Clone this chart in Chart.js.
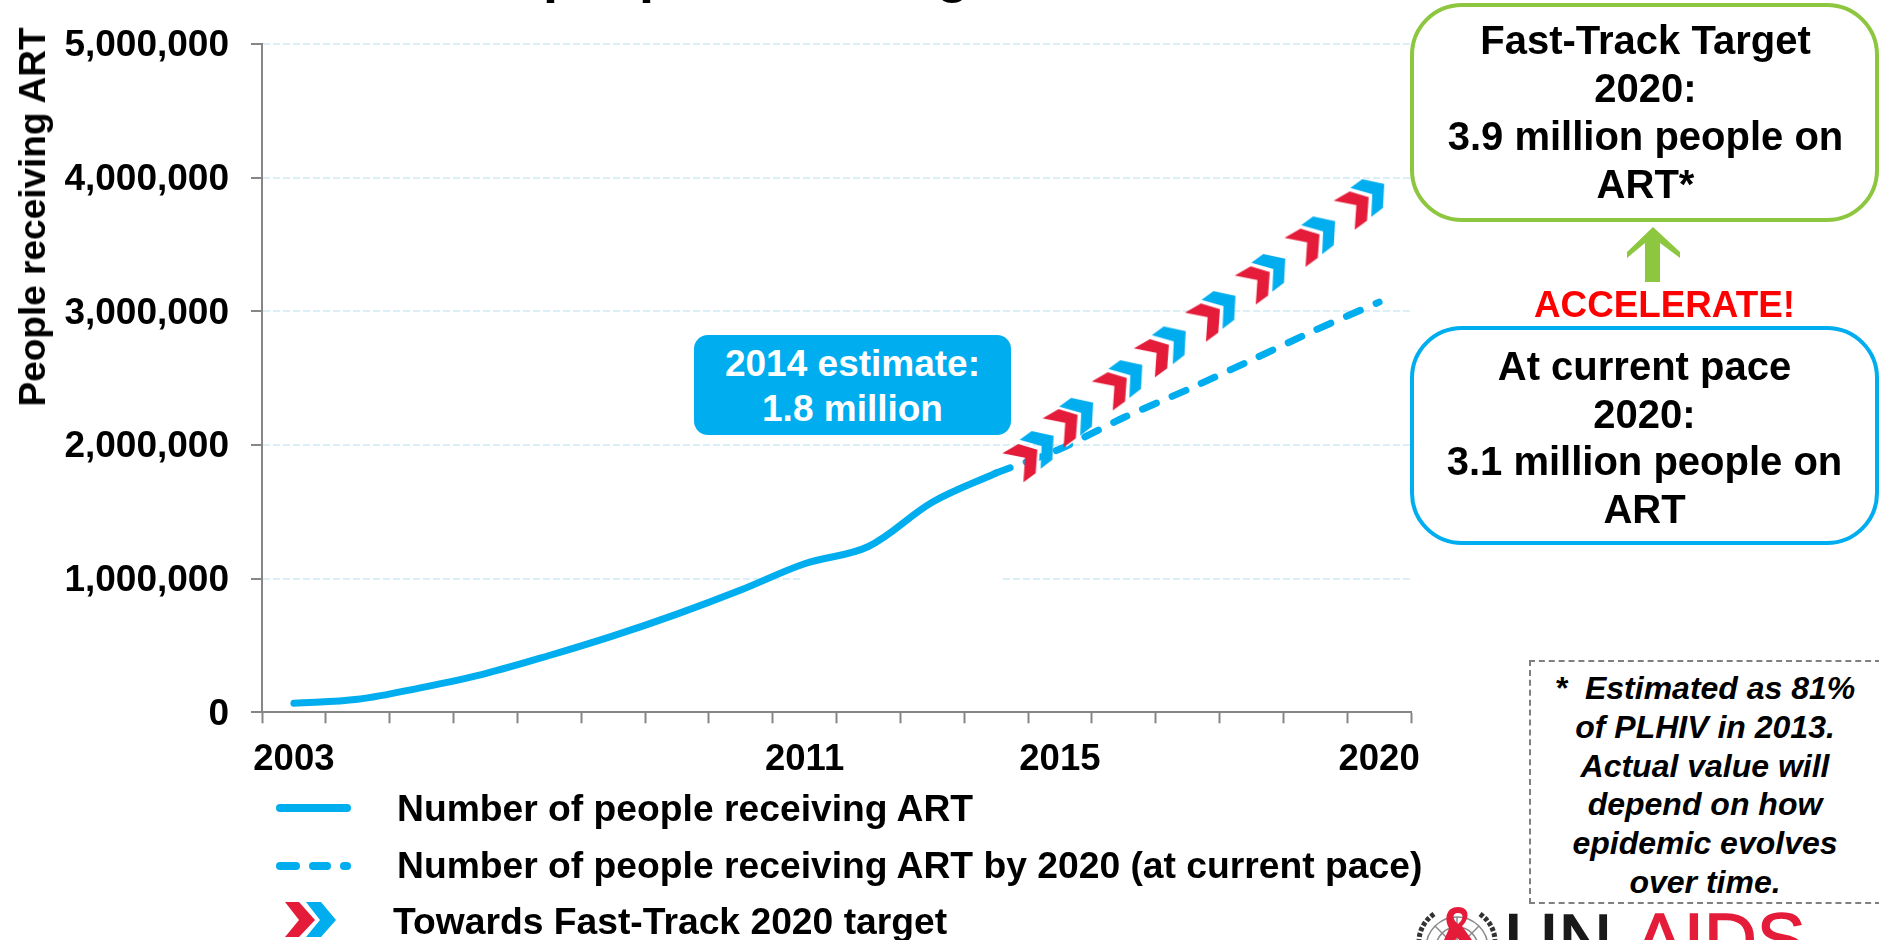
<!DOCTYPE html>
<html>
<head>
<meta charset="utf-8">
<title>People receiving ART</title>
<script src="https://cdn.jsdelivr.net/npm/chart.js@4"></script>
<style>
  html, body { margin: 0; padding: 0; background: #fff; overflow: hidden; }
  #page { position: relative; width: 1879px; height: 940px; overflow: hidden;
          font-family: "Liberation Sans", Arial, sans-serif; font-weight: bold; color: #000; }
  #grafica { position: absolute; left: 0; top: 0; }
  .txt { position: absolute; white-space: nowrap; }
  .caja { position: absolute; box-sizing: border-box; background: #fff; border-radius: 52px;
          text-align: center; font-size: 40px; }
  #titulo { left: 258px; top: -58px; font-size: 54px; line-height: 62px; }
  #ejeY { left: 33px; top: 217px; font-size: 37px; line-height: 40px;
          transform: translate(-50%, -50%) rotate(-90deg); }
  #tapa { position: absolute; left: 803px; top: 574px; width: 197px; height: 9px; background: #fff; }
  #estimado { position: absolute; left: 694px; top: 335px; width: 317px; height: 100px; background: #00aeef;
              border-radius: 14px; color: #fff; font-size: 37px; line-height: 45px; text-align: center;
              padding-top: 6px; box-sizing: border-box; }
  #meta { left: 1410px; top: 3px; width: 469px; height: 219px; border: 4px solid #8dc63f; line-height: 48px; padding: 9px 0 0 2px; }
  #ritmo { left: 1410px; top: 326px; width: 469px; height: 219px; border: 4px solid #00aeef; line-height: 47.5px; padding-top: 13px; }
  #acelera { left: 1534px; top: 285px; font-size: 36.8px; line-height: 40px; color: #f00; }
  #nota { position: absolute; left: 1529px; top: 660px; width: 352px; height: 244px; box-sizing: border-box;
          border: 2px dashed #808080; background: #fff; text-align: center; font-style: italic;
          font-size: 32px; line-height: 38.8px; padding-top: 7px; }
  .leyenda { font-size: 37.25px; line-height: 42px; }
  .logo { font-weight: normal; -webkit-text-stroke: 1.5px currentColor; line-height: 80px; }
  svg { position: absolute; overflow: visible; }
</style>
</head>
<body>
<div id="page">
  <canvas id="grafica" width="1879" height="940"></canvas>
  <div id="tapa"></div>

  <div class="txt" id="titulo">Number of people receiving ART</div>
  <div class="txt" id="ejeY">People receiving ART</div>

  <div id="estimado">2014 estimate:<br>1.8 million</div>

  <div class="caja" id="meta">Fast-Track Target<br>2020:<br>3.9 million people on<br>ART*</div>
  <svg style="left:0;top:0" width="1879" height="940">
    <polygon fill="#8dc63f" points="1653,227 1680,252 1680,258 1660,243 1660,282 1645,282 1645,243 1627,258 1627,252"/>
  </svg>
  <div class="txt" id="acelera">ACCELERATE!</div>
  <div class="caja" id="ritmo">At current pace<br>2020:<br>3.1 million people on<br>ART</div>

  <div id="nota">*&nbsp; Estimated as 81%<br>of PLHIV in 2013.<br>Actual value will<br>depend on how<br>epidemic evolves<br>over time.</div>

  <!-- leyenda -->
  <svg style="left:0;top:0" width="1879" height="940">
    <line x1="280" y1="808" x2="347" y2="808" stroke="#00aeef" stroke-width="8" stroke-linecap="round"/>
    <line x1="280" y1="866" x2="296" y2="866" stroke="#00aeef" stroke-width="8" stroke-linecap="round"/>
    <line x1="313" y1="866" x2="327" y2="866" stroke="#00aeef" stroke-width="8" stroke-linecap="round"/>
    <line x1="344" y1="866" x2="347" y2="866" stroke="#00aeef" stroke-width="8" stroke-linecap="round"/>
    <polygon fill="#00aeef" points="306,902 321,902 336,920 321,937 306,937 320,920"/>
    <polygon fill="#e41c3a" points="285,902 299,902 315,920 299,937 285,937 299,920"/>
  </svg>
  <div class="txt leyenda" style="left:397px;top:787px">Number of people receiving ART</div>
  <div class="txt leyenda" style="left:397px;top:844px">Number of people receiving ART by 2020 (at current pace)</div>
  <div class="txt leyenda" style="left:393px;top:900px">Towards Fast-Track 2020 target</div>

  <!-- logo -->
  <svg style="left:0;top:0" width="1879" height="940">
    <g fill="none" stroke="#8a8a8a" stroke-width="1.5">
      <circle cx="1457" cy="948" r="31"/>
      <circle cx="1457" cy="948" r="21"/>
      <circle cx="1457" cy="948" r="11"/>
      <line x1="1457" y1="917" x2="1457" y2="940"/>
      <line x1="1435" y1="926" x2="1479" y2="970"/>
      <line x1="1479" y1="926" x2="1435" y2="970"/>
    </g>
    <g fill="none" stroke="#333" stroke-width="5" stroke-dasharray="4 2">
      <path d="M1434 914 Q1420 924 1419 940"/>
      <path d="M1480 914 Q1494 924 1495 940"/>
    </g>
    <path d="M1458 907 C1446 907 1444 919 1449 928 L1466 948 L1472 940 L1462 926 C1470 919 1470 907 1458 907 Z M1458 913 C1452 913 1452 919 1458 924 C1464 919 1464 913 1458 913 Z" fill="#e41c3a" fill-rule="evenodd"/>
    <path d="M1451 924 L1444 940 L1452 946 L1460 932 Z" fill="#e41c3a"/>
  </svg>
  <div class="txt logo" style="left:1504px;top:900px;font-size:75px;color:#1a1a1a">UN</div>
  <div class="txt logo" style="left:1635px;top:899px;font-size:73px;color:#e41c3a">AIDS</div>
</div>

<script>
  // datos
  const anios = [2003,2004,2005,2006,2007,2008,2009,2010,2011,2012,2013,2014,2015,2016,2017,2018,2019,2020];
  const aniosVisibles = [2003,2011,2015,2020];
  const personasART = [67000,97000,185000,290000,425000,572000,735000,915000,1112000,1241000,1572000,1791000,null,null,null,null,null,null];
  const ritmoActual = [null,null,null,null,null,null,null,null,null,null,null,1791000,1970000,2206000,2415000,2636000,2860000,3070000];

  // flechas hacia la meta 2020
  const flechaRojaX = [2014.38,2015.01,2015.78,2016.44,2017.24,2018.02,2018.80,2019.57];
  const flechaRojaY = [1866000,2127000,2403000,2651000,2918000,3196000,3478000,3756000];
  const flechaAzulX = [2014.65,2015.27,2016.04,2016.72,2017.50,2018.28,2019.06,2019.83];
  const flechaAzulY = [1963000,2211000,2493000,2746000,3010000,3288000,3569000,3848000];

  const azul = '#00aeef';
  const rojo = '#e41c3a';
  const gris = '#868686';

  // dibuja una flecha inclinada en un canvas para usarla como pointStyle
  function crearFlecha(color, forma, conBorde){
    const c = document.createElement('canvas');
    c.width = 40;
    c.height = 40;
    const g = c.getContext('2d');
    const trazar = (dx) => {
      g.beginPath();
      forma.forEach((p, i) => i ? g.lineTo(p[0] + 2 + dx, p[1] + 1) : g.moveTo(p[0] + 2 + dx, p[1] + 1));
      g.closePath();
      g.fill();
    };
    if(conBorde){
      g.fillStyle = '#fff';
      trazar(2.5);
    }
    g.fillStyle = color;
    trazar(0);
    return c;
  }
  const flechaRoja = crearFlecha(rojo, [[0,9.3],[16,0],[35,5.7],[33.3,29.3],[21,38.3],[22.7,13.7]], true);
  const flechaAzul = crearFlecha(azul, [[0,8.7],[12,0],[34,4.7],[32.7,28.7],[21,37.7],[22,15]], false);

  const puntos = (xs, ys) => xs.map((x, i) => ({x: x, y: ys[i]}));

  new Chart(document.getElementById('grafica'), {
    type: 'line',
    data: {
      labels: anios,
      datasets: [
        {
          label: 'Number of people receiving ART',
          data: personasART,
          borderColor: azul,
          borderWidth: 7,
          borderCapStyle: 'round',
          tension: 0.35,
          pointRadius: 0,
          order: 3
        },
        {
          label: 'Number of people receiving ART by 2020 (at current pace)',
          data: ritmoActual,
          borderColor: azul,
          borderWidth: 7,
          borderCapStyle: 'round',
          borderDash: [15, 17],
          tension: 0.2,
          pointRadius: 0,
          order: 2
        },
        {
          type: 'scatter',
          label: 'Towards Fast-Track 2020 target',
          data: puntos(flechaAzulX, flechaAzulY),
          xAxisID: 'xFino',
          pointStyle: flechaAzul,
          pointRadius: 18,
          order: 1
        },
        {
          type: 'scatter',
          label: 'Towards Fast-Track 2020 target',
          data: puntos(flechaRojaX, flechaRojaY),
          xAxisID: 'xFino',
          pointStyle: flechaRoja,
          pointRadius: 18,
          order: 0
        }
      ]
    },
    options: {
      responsive: false,
      animation: false,
      layout: { padding: { left: 0, top: 42.3, right: 468, bottom: 0 } },
      scales: {
        x: {
          type: 'category',
          offset: true,
          afterFit: (eje) => { eje.height = 227.7; },
          border: { color: gris, width: 2 },
          grid: { offset: true, drawOnChartArea: false, drawTicks: true, tickLength: 11, tickColor: gris, tickWidth: 2 },
          ticks: {
            color: '#000',
            autoSkip: false,
            maxRotation: 0,
            padding: 15,
            font: { family: '"Liberation Sans"', size: 36.5, weight: 'bold' },
            callback: function(valor){
              const anio = this.getLabelForValue(valor);
              return aniosVisibles.includes(anio) ? String(anio) : '';
            }
          }
        },
        // eje oculto para colocar las flechas entre dos años
        xFino: {
          type: 'linear',
          display: false,
          min: 2002.5,
          max: 2020.5
        },
        y: {
          min: 0,
          max: 5000000,
          afterFit: (eje) => { eje.width = 262; },
          border: { color: gris, width: 2, dash: [7, 3] },
          grid: { color: '#daeff6', lineWidth: 2, tickLength: 11, tickColor: gris, tickWidth: 2, tickBorderDash: [] },
          ticks: {
            color: '#000',
            stepSize: 1000000,
            padding: 22,
            labelOffset: 2,
            font: { family: '"Liberation Sans"', size: 37, weight: 'bold' },
            callback: (valor) => valor.toLocaleString('en-US')
          }
        }
      },
      plugins: {
        legend: { display: false },
        title: { display: false },
        tooltip: { enabled: false }
      }
    }
  });
</script>
</body>
</html>
